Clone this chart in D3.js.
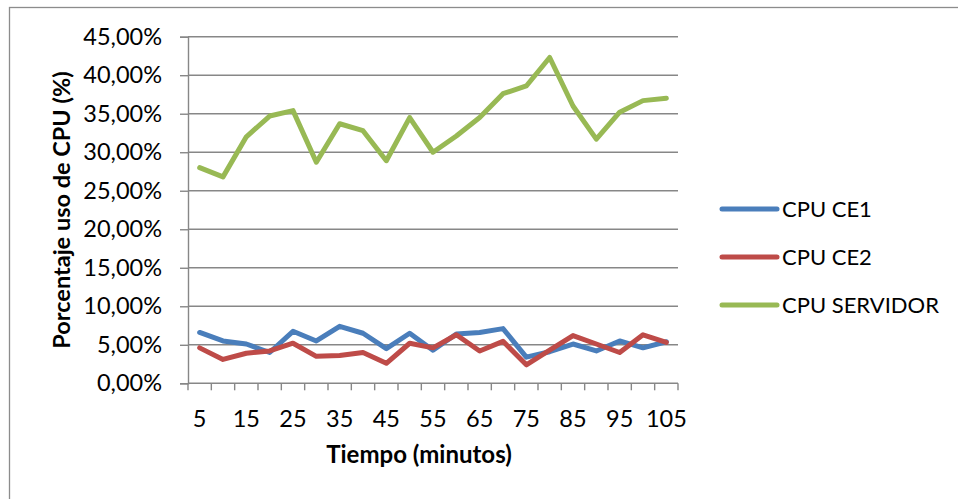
<!DOCTYPE html>
<html>
<head>
<meta charset="utf-8">
<script src="https://cdn.jsdelivr.net/npm/d3@7"></script>
<style>
  html, body { margin: 0; padding: 0; background: #fff; }
  svg { display: block; font-family: Lato, "Open Sans", sans-serif; }
</style>
</head>
<body>
<svg id="chart" width="958" height="499"></svg>
<script>
// Minutes sampled every 5 minutes
const minutes = [5, 10, 15, 20, 25, 30, 35, 40, 45, 50, 55, 60, 65, 70, 75, 80, 85, 90, 95, 100, 105];

// CPU usage as fractions
const cpuCE1 = [0.066, 0.055, 0.051, 0.040, 0.0675, 0.055, 0.074, 0.065, 0.045, 0.065, 0.043,
                0.064, 0.066, 0.071, 0.034, 0.041, 0.051, 0.042, 0.055, 0.046, 0.054];
const cpuCE2 = [0.046, 0.031, 0.039, 0.042, 0.052, 0.035, 0.036, 0.040, 0.026, 0.052, 0.046,
                0.063, 0.042, 0.0545, 0.024, 0.043, 0.062, 0.051, 0.040, 0.063, 0.053];
const cpuServidor = [0.280, 0.268, 0.320, 0.347, 0.354, 0.287, 0.337, 0.328, 0.289, 0.345, 0.300,
                     0.321, 0.345, 0.376, 0.386, 0.423, 0.360, 0.317, 0.352, 0.367, 0.370];

const seriesNames = ["CPU CE1", "CPU CE2", "CPU SERVIDOR"];
const seriesColors = ["#4a7ebb", "#be4b48", "#98b954"];
const yTicks = [0, 0.05, 0.10, 0.15, 0.20, 0.25, 0.30, 0.35, 0.40, 0.45];
const xLabelTicks = [5, 15, 25, 35, 45, 55, 65, 75, 85, 95, 105];
const yTitle = "Porcentaje uso de CPU (%)";
const xTitle = "Tiempo (minutos)";

const series = [cpuCE1, cpuCE2, cpuServidor].map((values, i) => ({
  name: seriesNames[i], color: seriesColors[i], values
}));

const esLocale = d3.formatLocale({ decimal: ",", thousands: ".", grouping: [3], currency: ["", " €"] });
const pct = esLocale.format(".2%");

const svg = d3.select("#chart");
const plot = { left: 188, right: 678, top: 36.7, bottom: 383.3 };

// Outer chart frame
svg.append("rect")
  .attr("x", 9.5).attr("y", 7.5)
  .attr("width", 1000).attr("height", 600)
  .attr("fill", "none").attr("stroke", "#8c8c8c").attr("stroke-width", 1.3);

const x = d3.scaleBand().domain(minutes).range([plot.left, plot.right]).padding(0);
const y = d3.scaleLinear().domain([0, 0.45]).range([plot.bottom, plot.top]);

// Horizontal gridlines
svg.append("g")
  .selectAll("line")
  .data(yTicks.filter(d => d > 0))
  .join("line")
  .attr("x1", plot.left).attr("x2", plot.right)
  .attr("y1", d => y(d)).attr("y2", d => y(d))
  .attr("stroke", "#878787").attr("stroke-width", 1.4);

// Y axis
const yAxis = svg.append("g")
  .attr("transform", `translate(${plot.left},0)`)
  .call(d3.axisLeft(y).tickValues(yTicks).tickFormat(pct).tickSize(8).tickPadding(18));
yAxis.select(".domain").attr("stroke", "#878787").attr("stroke-width", 1.4);
yAxis.selectAll(".tick line").attr("stroke", "#878787").attr("stroke-width", 1.4);
yAxis.selectAll(".tick text")
  .attr("font-size", 23.5).attr("fill", "#000").attr("font-family", "Lato");

// X axis: tick marks sit between categories, labels on every other category
const xAxis = svg.append("g").attr("transform", `translate(0,${plot.bottom})`);
xAxis.append("line")
  .attr("x1", plot.left).attr("x2", plot.right)
  .attr("stroke", "#878787").attr("stroke-width", 1.4);
const boundaries = minutes.map(m => x(m)).concat([x(minutes[minutes.length - 1]) + x.bandwidth()]);
xAxis.selectAll("line.tk")
  .data(boundaries)
  .join("line")
  .attr("class", "tk")
  .attr("x1", d => d).attr("x2", d => d)
  .attr("y1", 0).attr("y2", 7)
  .attr("stroke", "#878787").attr("stroke-width", 1.4);
xAxis.selectAll("text")
  .data(xLabelTicks)
  .join("text")
  .attr("x", d => x(d) + x.bandwidth() / 2)
  .attr("y", 44)
  .attr("text-anchor", "middle")
  .attr("font-size", 23.5)
  .attr("fill", "#000")
  .text(d => d);

// Axis titles
svg.append("text")
  .attr("transform", `translate(70,210) rotate(-90)`)
  .attr("text-anchor", "middle")
  .attr("font-size", 23.5).attr("font-weight", "bold")
  .text(yTitle);

svg.append("text")
  .attr("x", 419).attr("y", 463)
  .attr("text-anchor", "middle")
  .attr("font-size", 24).attr("font-weight", "bold")
  .text(xTitle);

// Series lines
const line = d3.line()
  .x((d, i) => x(minutes[i]) + x.bandwidth() / 2)
  .y(d => y(d));

svg.append("g")
  .selectAll("path")
  .data(series)
  .join("path")
  .attr("d", s => line(s.values))
  .attr("fill", "none")
  .attr("stroke", s => s.color)
  .attr("stroke-width", 5)
  .attr("stroke-linejoin", "round")
  .attr("stroke-linecap", "round");

// Legend
const legend = svg.append("g")
  .selectAll("g")
  .data(series)
  .join("g")
  .attr("transform", (d, i) => `translate(722,${209 + i * 48})`);
legend.append("line")
  .attr("x1", 0).attr("x2", 55)
  .attr("stroke", d => d.color).attr("stroke-width", 5).attr("stroke-linecap", "round");
legend.append("text")
  .attr("x", 60).attr("y", 0).attr("dy", "0.36em")
  .attr("font-size", 22).attr("fill", "#000")
  .text(d => d.name);
</script>
</body>
</html>
